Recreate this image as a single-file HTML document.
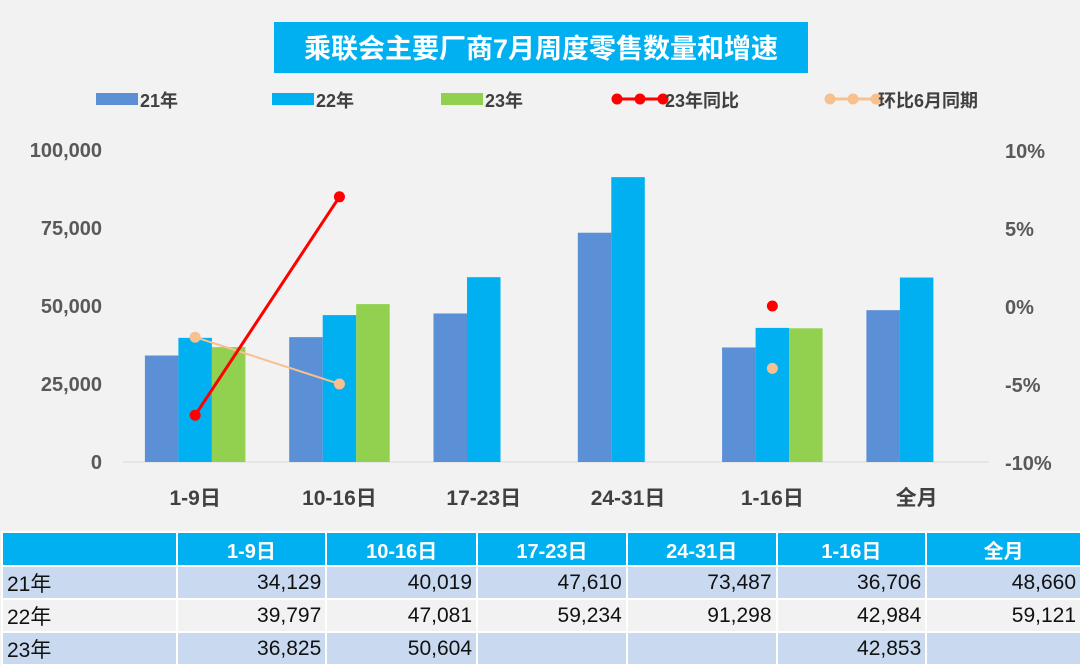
<!DOCTYPE html>
<html><head><meta charset="utf-8">
<style>
body{margin:0;width:1080px;height:665px;background:#f2f2f2;overflow:hidden;font-family:"Liberation Sans","Noto Sans CJK SC",sans-serif;}
#wrap{position:relative;width:1080px;height:665px;}
table{position:absolute;left:3px;top:533px;border-collapse:separate;border-spacing:2px 2px;margin:-2px;background:#fff;}
td{height:31px;padding:0 4px;font-size:21px;color:#111;white-space:nowrap;box-sizing:border-box;}
tr.h td{background:#00b0f0;color:#fff;font-weight:bold;text-align:center;font-size:20px;height:32px;}
tr.a td{background:#c9d9f0;}
tr.b td{background:#f2f2f2;}
td.n{text-align:right;}
</style></head><body>
<div id="wrap">
<svg id="chart" width="1080" height="532" style="position:absolute;left:0;top:0"></svg>
<table>
<tr class="h"><td style="width:173px"></td><td style="width:148px">1-9日</td><td style="width:149px">10-16日</td><td style="width:148px">17-23日</td><td style="width:148px">24-31日</td><td style="width:148px">1-16日</td><td style="width:153px">全月</td></tr>
<tr class="a"><td>21年</td><td class="n">34,129</td><td class="n">40,019</td><td class="n">47,610</td><td class="n">73,487</td><td class="n">36,706</td><td class="n">48,660</td></tr>
<tr class="b"><td>22年</td><td class="n">39,797</td><td class="n">47,081</td><td class="n">59,234</td><td class="n">91,298</td><td class="n">42,984</td><td class="n">59,121</td></tr>
<tr class="a"><td>23年</td><td class="n">36,825</td><td class="n">50,604</td><td class="n"></td><td class="n"></td><td class="n">42,853</td><td class="n"></td></tr>
</table>
</div>
<script>
const categories=["1-9日","10-16日","17-23日","24-31日","1-16日","全月"];
const s21=[34129,40019,47610,73487,36706,48660];
const s22=[39797,47081,59234,91298,42984,59121];
const s23=[36825,50604,null,null,42853,null];
const yoy23=[-7,7,null,null,0,null];
const mom=[-2,-5,null,null,-4,null];
const leftTicks=[0,25000,50000,75000,100000];
const rightTicks=[-10,-5,0,5,10];
const NS="http://www.w3.org/2000/svg";
const svg=document.getElementById('chart');
function el(t,a,p){const e=document.createElementNS(NS,t);for(const k in a)e.setAttribute(k,a[k]);(p||svg).appendChild(e);return e;}
const pTop=150,bot=462,x0=123,step=144.3;
const yL=v=>bot-(v/100000)*(bot-pTop);
const yR=v=>bot-((v+10)/20)*(bot-pTop);
const xc=i=>x0+step*(i+0.5);
const fam='"Liberation Sans","Noto Sans CJK SC",sans-serif';
let t=el('rect',{x:274,y:22,width:534,height:51,fill:'#00b0f0'});


t=el('text',{x:541,y:58,'text-anchor':'middle','font-size':27,'font-weight':'bold',fill:'#fff','font-family':fam});t.textContent='乘联会主要厂商7月周度零售数量和增速';


const leg=[["21年","#5b8fd6","bar",96],["22年","#00b0f0","bar",272],["23年","#92d050","bar",441],["23年同比","#ff0000","line",617],["环比6月同期","#f8c08f","line",830]];
leg.forEach(l=>{const g=el('g',{});
 
 
 if(l[2]=="bar")el('rect',{x:l[3],y:93,width:42,height:12,fill:l[1]},g);
 else{el('line',{x1:l[3],y1:99,x2:l[3]+46,y2:99,stroke:l[1],'stroke-width':3},g);[0,23,46].forEach(d=>el('circle',{cx:l[3]+d,cy:99,r:5.5,fill:l[1]},g));}
 const tx=el('text',{x:l[3]+(l[2]=="bar"?44:48),y:107,'font-size':18,'font-weight':'bold',fill:'#404040','font-family':fam},g);tx.textContent=l[0];});
let a=el('line',{x1:x0,y1:bot,x2:x0+step*6,y2:bot,stroke:'#d9d9d9','stroke-width':1});


leftTicks.forEach(v=>{const e=el('text',{x:102,y:yL(v)+7,'text-anchor':'end','font-size':20,'font-weight':'bold',fill:'#595959','font-family':fam});e.textContent=v.toLocaleString('en-US');
 
 });
rightTicks.forEach(v=>{const e=el('text',{x:1005,y:yR(v)+8,'font-size':20,'font-weight':'bold',fill:'#595959','font-family':fam});e.textContent=v+'%';
 
 });
categories.forEach((c,i)=>{const e=el('text',{x:xc(i),y:505,'text-anchor':'middle','font-size':21,'font-weight':'bold',fill:'#404040','font-family':fam});e.textContent=c;
 
 });
const bw=33.5;
[[s21,'#5b8fd6',-1],[s22,'#00b0f0',0],[s23,'#92d050',1]].forEach(s=>{s[0].forEach((v,i)=>{if(v==null)return;
 const x=xc(i)+s[2]*bw-bw/2;const r=el('rect',{x:x,y:yL(v),width:bw,height:bot-yL(v),fill:s[1]});
 
 });});
function line(arr,col,w,r){let pts=[],seg=[];arr.forEach((v,i)=>{if(v==null){if(seg.length)pts.push(seg);seg=[];}else seg.push([xc(i),yR(v)]);});if(seg.length)pts.push(seg);
 pts.forEach(sg=>{if(sg.length>1){const p=el('polyline',{points:sg.map(q=>q.join(',')).join(' '),fill:'none',stroke:col,'stroke-width':w});
 
 }
 sg.forEach(q=>{const c=el('circle',{cx:q[0],cy:q[1],r:r,fill:col});
 
 });});}
line(mom,'#f8c08f',2,5.5);
line(yoy23,'#ff0000',3,5.5);
</script>
</body></html>
